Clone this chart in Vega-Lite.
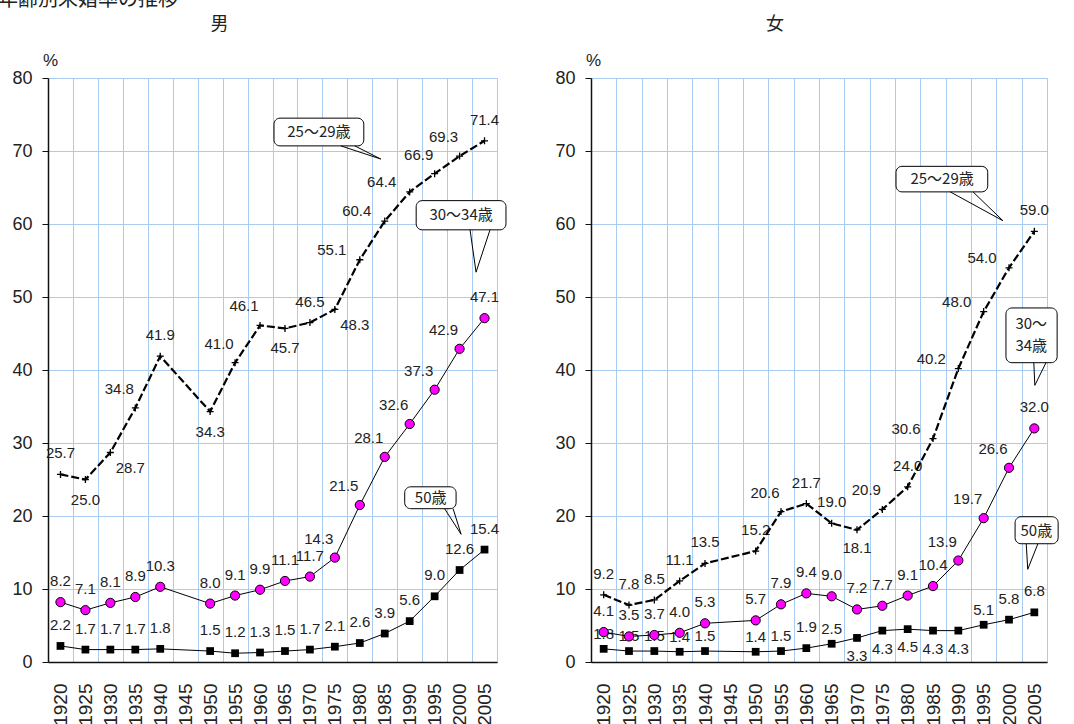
{
  "$schema": "https://vega.github.io/schema/vega-lite/v6.json",
  "padding": {"left": -3, "top": -10, "right": 5, "bottom": 0},
  "title": {"text": "年齢別未婚率の推移", "anchor": "start", "frame": "bounds", "dx": -14, "font": "Noto Sans CJK JP", "fontSize": 20, "fontWeight": "normal", "color": "#222", "offset": 6},
  "datasets": {
    "rates": [
      {"sex": "男", "age": "25～29歳", "year": 1920, "v": 25.7},
      {"sex": "男", "age": "25～29歳", "year": 1925, "v": 25.0},
      {"sex": "男", "age": "25～29歳", "year": 1930, "v": 28.7},
      {"sex": "男", "age": "25～29歳", "year": 1935, "v": 34.8},
      {"sex": "男", "age": "25～29歳", "year": 1940, "v": 41.9},
      {"sex": "男", "age": "25～29歳", "year": 1950, "v": 34.3},
      {"sex": "男", "age": "25～29歳", "year": 1955, "v": 41.0},
      {"sex": "男", "age": "25～29歳", "year": 1960, "v": 46.1},
      {"sex": "男", "age": "25～29歳", "year": 1965, "v": 45.7},
      {"sex": "男", "age": "25～29歳", "year": 1970, "v": 46.5},
      {"sex": "男", "age": "25～29歳", "year": 1975, "v": 48.3},
      {"sex": "男", "age": "25～29歳", "year": 1980, "v": 55.1},
      {"sex": "男", "age": "25～29歳", "year": 1985, "v": 60.4},
      {"sex": "男", "age": "25～29歳", "year": 1990, "v": 64.4},
      {"sex": "男", "age": "25～29歳", "year": 1995, "v": 66.9},
      {"sex": "男", "age": "25～29歳", "year": 2000, "v": 69.3},
      {"sex": "男", "age": "25～29歳", "year": 2005, "v": 71.4},
      {"sex": "男", "age": "30～34歳", "year": 1920, "v": 8.2},
      {"sex": "男", "age": "30～34歳", "year": 1925, "v": 7.1},
      {"sex": "男", "age": "30～34歳", "year": 1930, "v": 8.1},
      {"sex": "男", "age": "30～34歳", "year": 1935, "v": 8.9},
      {"sex": "男", "age": "30～34歳", "year": 1940, "v": 10.3},
      {"sex": "男", "age": "30～34歳", "year": 1950, "v": 8.0},
      {"sex": "男", "age": "30～34歳", "year": 1955, "v": 9.1},
      {"sex": "男", "age": "30～34歳", "year": 1960, "v": 9.9},
      {"sex": "男", "age": "30～34歳", "year": 1965, "v": 11.1},
      {"sex": "男", "age": "30～34歳", "year": 1970, "v": 11.7},
      {"sex": "男", "age": "30～34歳", "year": 1975, "v": 14.3},
      {"sex": "男", "age": "30～34歳", "year": 1980, "v": 21.5},
      {"sex": "男", "age": "30～34歳", "year": 1985, "v": 28.1},
      {"sex": "男", "age": "30～34歳", "year": 1990, "v": 32.6},
      {"sex": "男", "age": "30～34歳", "year": 1995, "v": 37.3},
      {"sex": "男", "age": "30～34歳", "year": 2000, "v": 42.9},
      {"sex": "男", "age": "30～34歳", "year": 2005, "v": 47.1},
      {"sex": "男", "age": "50歳", "year": 1920, "v": 2.2},
      {"sex": "男", "age": "50歳", "year": 1925, "v": 1.7},
      {"sex": "男", "age": "50歳", "year": 1930, "v": 1.7},
      {"sex": "男", "age": "50歳", "year": 1935, "v": 1.7},
      {"sex": "男", "age": "50歳", "year": 1940, "v": 1.8},
      {"sex": "男", "age": "50歳", "year": 1950, "v": 1.5},
      {"sex": "男", "age": "50歳", "year": 1955, "v": 1.2},
      {"sex": "男", "age": "50歳", "year": 1960, "v": 1.3},
      {"sex": "男", "age": "50歳", "year": 1965, "v": 1.5},
      {"sex": "男", "age": "50歳", "year": 1970, "v": 1.7},
      {"sex": "男", "age": "50歳", "year": 1975, "v": 2.1},
      {"sex": "男", "age": "50歳", "year": 1980, "v": 2.6},
      {"sex": "男", "age": "50歳", "year": 1985, "v": 3.9},
      {"sex": "男", "age": "50歳", "year": 1990, "v": 5.6},
      {"sex": "男", "age": "50歳", "year": 1995, "v": 9.0},
      {"sex": "男", "age": "50歳", "year": 2000, "v": 12.6},
      {"sex": "男", "age": "50歳", "year": 2005, "v": 15.4},
      {"sex": "女", "age": "25～29歳", "year": 1920, "v": 9.2},
      {"sex": "女", "age": "25～29歳", "year": 1925, "v": 7.8},
      {"sex": "女", "age": "25～29歳", "year": 1930, "v": 8.5},
      {"sex": "女", "age": "25～29歳", "year": 1935, "v": 11.1},
      {"sex": "女", "age": "25～29歳", "year": 1940, "v": 13.5},
      {"sex": "女", "age": "25～29歳", "year": 1950, "v": 15.2},
      {"sex": "女", "age": "25～29歳", "year": 1955, "v": 20.6},
      {"sex": "女", "age": "25～29歳", "year": 1960, "v": 21.7},
      {"sex": "女", "age": "25～29歳", "year": 1965, "v": 19.0},
      {"sex": "女", "age": "25～29歳", "year": 1970, "v": 18.1},
      {"sex": "女", "age": "25～29歳", "year": 1975, "v": 20.9},
      {"sex": "女", "age": "25～29歳", "year": 1980, "v": 24.0},
      {"sex": "女", "age": "25～29歳", "year": 1985, "v": 30.6},
      {"sex": "女", "age": "25～29歳", "year": 1990, "v": 40.2},
      {"sex": "女", "age": "25～29歳", "year": 1995, "v": 48.0},
      {"sex": "女", "age": "25～29歳", "year": 2000, "v": 54.0},
      {"sex": "女", "age": "25～29歳", "year": 2005, "v": 59.0},
      {"sex": "女", "age": "30～34歳", "year": 1920, "v": 4.1},
      {"sex": "女", "age": "30～34歳", "year": 1925, "v": 3.5},
      {"sex": "女", "age": "30～34歳", "year": 1930, "v": 3.7},
      {"sex": "女", "age": "30～34歳", "year": 1935, "v": 4.0},
      {"sex": "女", "age": "30～34歳", "year": 1940, "v": 5.3},
      {"sex": "女", "age": "30～34歳", "year": 1950, "v": 5.7},
      {"sex": "女", "age": "30～34歳", "year": 1955, "v": 7.9},
      {"sex": "女", "age": "30～34歳", "year": 1960, "v": 9.4},
      {"sex": "女", "age": "30～34歳", "year": 1965, "v": 9.0},
      {"sex": "女", "age": "30～34歳", "year": 1970, "v": 7.2},
      {"sex": "女", "age": "30～34歳", "year": 1975, "v": 7.7},
      {"sex": "女", "age": "30～34歳", "year": 1980, "v": 9.1},
      {"sex": "女", "age": "30～34歳", "year": 1985, "v": 10.4},
      {"sex": "女", "age": "30～34歳", "year": 1990, "v": 13.9},
      {"sex": "女", "age": "30～34歳", "year": 1995, "v": 19.7},
      {"sex": "女", "age": "30～34歳", "year": 2000, "v": 26.6},
      {"sex": "女", "age": "30～34歳", "year": 2005, "v": 32.0},
      {"sex": "女", "age": "50歳", "year": 1920, "v": 1.8},
      {"sex": "女", "age": "50歳", "year": 1925, "v": 1.5},
      {"sex": "女", "age": "50歳", "year": 1930, "v": 1.5},
      {"sex": "女", "age": "50歳", "year": 1935, "v": 1.4},
      {"sex": "女", "age": "50歳", "year": 1940, "v": 1.5},
      {"sex": "女", "age": "50歳", "year": 1950, "v": 1.4},
      {"sex": "女", "age": "50歳", "year": 1955, "v": 1.5},
      {"sex": "女", "age": "50歳", "year": 1960, "v": 1.9},
      {"sex": "女", "age": "50歳", "year": 1965, "v": 2.5},
      {"sex": "女", "age": "50歳", "year": 1970, "v": 3.3},
      {"sex": "女", "age": "50歳", "year": 1975, "v": 4.3},
      {"sex": "女", "age": "50歳", "year": 1980, "v": 4.5},
      {"sex": "女", "age": "50歳", "year": 1985, "v": 4.3},
      {"sex": "女", "age": "50歳", "year": 1990, "v": 4.3},
      {"sex": "女", "age": "50歳", "year": 1995, "v": 5.1},
      {"sex": "女", "age": "50歳", "year": 2000, "v": 5.8},
      {"sex": "女", "age": "50歳", "year": 2005, "v": 6.8}
    ],
    "boxes": [
      {"sex": "男", "label": "25～29歳", "x1": 1962.8, "x2": 1980.8, "y1": 70.7, "y2": 74.5, "tx": 1971.8, "ty": 72.6},
      {"sex": "男", "label": "30～34歳", "x1": 1991.3, "x2": 2009.3, "y1": 59.2, "y2": 63.2, "tx": 2000.3, "ty": 61.2},
      {"sex": "男", "label": "50歳", "x1": 1989.0, "x2": 1999.3, "y1": 21.0, "y2": 24.0, "tx": 1994.2, "ty": 22.5},
      {"sex": "女", "label": "25～29歳", "x1": 1977.7, "x2": 1995.8, "y1": 64.4, "y2": 67.9, "tx": 1986.8, "ty": 66.2},
      {"sex": "女", "label": "30～\n34歳", "x1": 1999.4, "x2": 2009.5, "y1": 41.0, "y2": 48.5, "tx": 2004.4, "ty": 46.3},
      {"sex": "女", "label": "50歳", "x1": 2001.2, "x2": 2009.7, "y1": 16.2, "y2": 19.9, "tx": 2005.4, "ty": 18.0}
    ],
    "wedges": [
      {"sex": "男", "label": "25～29歳", "k": 1, "x": 1976.2, "y": 70.7},
      {"sex": "男", "label": "25～29歳", "k": 2, "x": 1984.2, "y": 68.9},
      {"sex": "男", "label": "25～29歳", "k": 3, "x": 1979.0, "y": 70.7},
      {"sex": "男", "label": "30～34歳", "k": 1, "x": 2002.1, "y": 59.2},
      {"sex": "男", "label": "30～34歳", "k": 2, "x": 2003.3, "y": 53.4},
      {"sex": "男", "label": "30～34歳", "k": 3, "x": 2006.1, "y": 59.2},
      {"sex": "男", "label": "50歳", "k": 1, "x": 1997.0, "y": 21.0},
      {"sex": "男", "label": "50歳", "k": 2, "x": 2000.3, "y": 17.5},
      {"sex": "男", "label": "50歳", "k": 3, "x": 1998.7, "y": 21.0},
      {"sex": "女", "label": "25～29歳", "k": 1, "x": 1988.4, "y": 64.4},
      {"sex": "女", "label": "25～29歳", "k": 2, "x": 1998.8, "y": 60.45},
      {"sex": "女", "label": "25～29歳", "k": 3, "x": 1992.9, "y": 64.4},
      {"sex": "女", "label": "30～34歳", "k": 1, "x": 2004.9, "y": 41.0},
      {"sex": "女", "label": "30～34歳", "k": 2, "x": 2005.1, "y": 37.9},
      {"sex": "女", "label": "30～34歳", "k": 3, "x": 2007.3, "y": 41.0},
      {"sex": "女", "label": "50歳", "k": 1, "x": 2003.4, "y": 16.2},
      {"sex": "女", "label": "50歳", "k": 2, "x": 2003.7, "y": 12.7},
      {"sex": "女", "label": "50歳", "k": 3, "x": 2005.7, "y": 16.2}
    ]
  },
  "bounds": "flush",
  "spacing": 94,
  "hconcat": [
    {
      "title": {"text": "男", "frame": "group", "anchor": "middle", "dx": -53, "font": "Noto Sans CJK JP", "fontSize": 18, "fontWeight": "normal", "color": "#222", "offset": 17},
      "width": 449,
      "height": 584,
      "resolve": {"scale": {"x": "independent"}},
      "layer": [
        {
          "data": {"name": "rates"},
          "transform": [{"filter": "datum.sex=='男'"}],
          "encoding": {
            "x": {"field": "year", "type": "ordinal", "bandPosition": 0.5,
              "scale": {"type": "band", "domain": [1920,1925,1930,1935,1940,1945,1950,1955,1960,1965,1970,1975,1980,1985,1990,1995,2000,2005], "paddingInner": 0, "paddingOuter": 0},
              "axis": {"title": null, "tickBand": "extent", "grid": true, "ticks": false, "labelAngle": -90, "labelPadding": 21, "labelFontSize": 19}},
            "y": {"field": "v", "type": "quantitative", "title": "%",
              "scale": {"domain": [0, 80], "nice": false},
              "axis": {"values": [0,10,20,30,40,50,60,70,80], "titleAngle": 0, "titleAlign": "center", "titleBaseline": "bottom", "titleX": 2, "titleY": -9}}
          },
          "layer": [
            {"transform": [{"filter": "!((datum.age=='25～29歳' && indexof([1925,1950,1965],datum.year)>=0) || (datum.age=='25～29歳' && indexof([1930,1975],datum.year)>=0) || (datum.age=='25～29歳' && indexof([1980,1985,1990],datum.year)>=0) || (datum.age=='25～29歳' && indexof([1935,1955,1960,1995,2000],datum.year)>=0) || (datum.age=='30～34歳' && datum.year>=1975 && datum.year<=2000))"}],
             "mark": {"type": "text", "dy": -21, "font": "Liberation Sans", "fontSize": 15, "color": "#222", "baseline": "middle"},
             "encoding": {"text": {"field": "v", "type": "quantitative", "format": ".1f"}}},
            {"transform": [{"filter": "datum.age=='25～29歳' && indexof([1925,1950,1965],datum.year)>=0"}],
             "mark": {"type": "text", "dy": 20, "font": "Liberation Sans", "fontSize": 15, "color": "#222", "baseline": "middle"},
             "encoding": {"text": {"field": "v", "type": "quantitative", "format": ".1f"}}},
            {"transform": [{"filter": "datum.age=='25～29歳' && indexof([1930,1975],datum.year)>=0"}],
             "mark": {"type": "text", "dx": 20, "dy": 16, "font": "Liberation Sans", "fontSize": 15, "color": "#222", "baseline": "middle"},
             "encoding": {"text": {"field": "v", "type": "quantitative", "format": ".1f"}}},
            {"transform": [{"filter": "datum.age=='25～29歳' && indexof([1980,1985,1990],datum.year)>=0"}],
             "mark": {"type": "text", "dx": -28, "dy": -10, "font": "Liberation Sans", "fontSize": 15, "color": "#222", "baseline": "middle"},
             "encoding": {"text": {"field": "v", "type": "quantitative", "format": ".1f"}}},
            {"transform": [{"filter": "(datum.age=='25～29歳' && indexof([1935,1955,1960,1995,2000],datum.year)>=0) || (datum.age=='30～34歳' && datum.year>=1975 && datum.year<=2000)"}],
             "mark": {"type": "text", "dx": -16, "dy": -19, "font": "Liberation Sans", "fontSize": 15, "color": "#222", "baseline": "middle"},
             "encoding": {"text": {"field": "v", "type": "quantitative", "format": ".1f"}}},
            {"transform": [{"filter": "datum.age=='25～29歳'"}],
             "mark": {"type": "line", "color": "black", "strokeWidth": 2.2, "strokeDash": [8, 3]}},
            {"transform": [{"filter": "datum.age!='25～29歳'"}],
             "mark": {"type": "line", "color": "black", "strokeWidth": 1},
             "encoding": {"detail": {"field": "age"}}},
            {"transform": [{"filter": "datum.age=='25～29歳'"}],
             "mark": {"type": "point", "shape": "M-1,0L1,0M0,-1L0,1", "filled": false, "stroke": "black", "strokeWidth": 1.3, "size": 49, "opacity": 1}},
            {"transform": [{"filter": "datum.age=='30～34歳'"}],
             "mark": {"type": "point", "shape": "circle", "filled": true, "fill": "#ff00ff", "stroke": "black", "strokeWidth": 1, "size": 85, "opacity": 1}},
            {"transform": [{"filter": "datum.age=='50歳'"}],
             "mark": {"type": "point", "shape": "square", "filled": true, "fill": "black", "size": 60, "opacity": 1}}
          ]
        },
        {
          "layer": [
            {"data": {"name": "boxes"}, "transform": [{"filter": "datum.sex=='男'"}],
             "mark": {"type": "rect", "fill": "white", "stroke": "black", "strokeWidth": 1, "cornerRadius": 6},
             "encoding": {
               "x": {"field": "x1", "type": "quantitative", "scale": {"domain": [1917.5, 2007.5], "nice": false, "zero": false}, "axis": null},
               "x2": {"field": "x2"},
               "y": {"field": "y1", "type": "quantitative", "title": "%"},
               "y2": {"field": "y2"}}},
            {"data": {"name": "wedges"}, "transform": [{"filter": "datum.sex=='男'"}],
             "mark": {"type": "line", "color": "black", "strokeWidth": 1},
             "encoding": {
               "x": {"field": "x", "type": "quantitative", "axis": null},
               "y": {"field": "y", "type": "quantitative", "title": "%"},
               "detail": {"field": "label"},
               "order": {"field": "k"}}},
            {"data": {"name": "boxes"}, "transform": [{"filter": "datum.sex=='男'"}],
             "mark": {"type": "text", "font": "Noto Sans CJK JP", "fontSize": 15, "color": "#222", "lineBreak": "\n", "lineHeight": 22, "baseline": "middle"},
             "encoding": {
               "x": {"field": "tx", "type": "quantitative", "axis": null},
               "y": {"field": "ty", "type": "quantitative", "title": "%"},
               "text": {"field": "label"}}}
          ]
        }
      ]
    },
    {
      "title": {"text": "女", "frame": "group", "anchor": "middle", "dx": -44, "font": "Noto Sans CJK JP", "fontSize": 18, "fontWeight": "normal", "color": "#222", "offset": 17},
      "width": 456,
      "height": 584,
      "resolve": {"scale": {"x": "independent"}},
      "layer": [
        {
          "data": {"name": "rates"},
          "transform": [{"filter": "datum.sex=='女'"}],
          "encoding": {
            "x": {"field": "year", "type": "ordinal", "bandPosition": 0.5,
              "scale": {"type": "band", "domain": [1920,1925,1930,1935,1940,1945,1950,1955,1960,1965,1970,1975,1980,1985,1990,1995,2000,2005], "paddingInner": 0, "paddingOuter": 0},
              "axis": {"title": null, "tickBand": "extent", "grid": true, "ticks": false, "labelAngle": -90, "labelPadding": 21, "labelFontSize": 19}},
            "y": {"field": "v", "type": "quantitative", "title": "%",
              "scale": {"domain": [0, 80], "nice": false},
              "axis": {"values": [0,10,20,30,40,50,60,70,80], "titleAngle": 0, "titleAlign": "center", "titleBaseline": "bottom", "titleX": 2, "titleY": -9}}
          },
          "layer": [
            {"transform": [{"filter": "!((datum.age=='25～29歳' && datum.year==1970) || (datum.age=='50歳' && datum.year>=1970 && datum.year<=1990) || (datum.age=='25～29歳' && indexof([1985,1990,1995,2000],datum.year)>=0) || (datum.age=='25～29歳' && indexof([1955,1975],datum.year)>=0) || (datum.age=='30～34歳' && datum.year>=1990 && datum.year<=2000) || (datum.age=='50歳' && indexof([1920,1925,1930,1935,1940,1950,1955,1965,1995],datum.year)>=0))"}],
             "mark": {"type": "text", "dy": -21, "font": "Liberation Sans", "fontSize": 15, "color": "#222", "baseline": "middle"},
             "encoding": {"text": {"field": "v", "type": "quantitative", "format": ".1f"}}},
            {"transform": [{"filter": "(datum.age=='25～29歳' && datum.year==1970) || (datum.age=='50歳' && datum.year>=1970 && datum.year<=1990)"}],
             "mark": {"type": "text", "dy": 18, "font": "Liberation Sans", "fontSize": 15, "color": "#222", "baseline": "middle"},
             "encoding": {"text": {"field": "v", "type": "quantitative", "format": ".1f"}}},
            {"transform": [{"filter": "datum.age=='25～29歳' && indexof([1985,1990,1995,2000],datum.year)>=0"}],
             "mark": {"type": "text", "dx": -27, "dy": -10, "font": "Liberation Sans", "fontSize": 15, "color": "#222", "baseline": "middle"},
             "encoding": {"text": {"field": "v", "type": "quantitative", "format": ".1f"}}},
            {"transform": [{"filter": "(datum.age=='25～29歳' && indexof([1955,1975],datum.year)>=0) || (datum.age=='30～34歳' && datum.year>=1990 && datum.year<=2000)"}],
             "mark": {"type": "text", "dx": -16, "dy": -19, "font": "Liberation Sans", "fontSize": 15, "color": "#222", "baseline": "middle"},
             "encoding": {"text": {"field": "v", "type": "quantitative", "format": ".1f"}}},
            {"transform": [{"filter": "datum.age=='50歳' && indexof([1920,1925,1930,1935,1940,1950,1955,1965,1995],datum.year)>=0"}],
             "mark": {"type": "text", "dy": -15, "font": "Liberation Sans", "fontSize": 15, "color": "#222", "baseline": "middle"},
             "encoding": {"text": {"field": "v", "type": "quantitative", "format": ".1f"}}},
            {"transform": [{"filter": "datum.age=='25～29歳'"}],
             "mark": {"type": "line", "color": "black", "strokeWidth": 2.2, "strokeDash": [8, 3]}},
            {"transform": [{"filter": "datum.age!='25～29歳'"}],
             "mark": {"type": "line", "color": "black", "strokeWidth": 1},
             "encoding": {"detail": {"field": "age"}}},
            {"transform": [{"filter": "datum.age=='25～29歳'"}],
             "mark": {"type": "point", "shape": "M-1,0L1,0M0,-1L0,1", "filled": false, "stroke": "black", "strokeWidth": 1.3, "size": 49, "opacity": 1}},
            {"transform": [{"filter": "datum.age=='30～34歳'"}],
             "mark": {"type": "point", "shape": "circle", "filled": true, "fill": "#ff00ff", "stroke": "black", "strokeWidth": 1, "size": 85, "opacity": 1}},
            {"transform": [{"filter": "datum.age=='50歳'"}],
             "mark": {"type": "point", "shape": "square", "filled": true, "fill": "black", "size": 60, "opacity": 1}}
          ]
        },
        {
          "layer": [
            {"data": {"name": "boxes"}, "transform": [{"filter": "datum.sex=='女'"}],
             "mark": {"type": "rect", "fill": "white", "stroke": "black", "strokeWidth": 1, "cornerRadius": 6},
             "encoding": {
               "x": {"field": "x1", "type": "quantitative", "scale": {"domain": [1917.5, 2007.5], "nice": false, "zero": false}, "axis": null},
               "x2": {"field": "x2"},
               "y": {"field": "y1", "type": "quantitative", "title": "%"},
               "y2": {"field": "y2"}}},
            {"data": {"name": "wedges"}, "transform": [{"filter": "datum.sex=='女'"}],
             "mark": {"type": "line", "color": "black", "strokeWidth": 1},
             "encoding": {
               "x": {"field": "x", "type": "quantitative", "axis": null},
               "y": {"field": "y", "type": "quantitative", "title": "%"},
               "detail": {"field": "label"},
               "order": {"field": "k"}}},
            {"data": {"name": "boxes"}, "transform": [{"filter": "datum.sex=='女'"}],
             "mark": {"type": "text", "font": "Noto Sans CJK JP", "fontSize": 15, "color": "#222", "lineBreak": "\n", "lineHeight": 22, "baseline": "middle"},
             "encoding": {
               "x": {"field": "tx", "type": "quantitative", "axis": null},
               "y": {"field": "ty", "type": "quantitative", "title": "%"},
               "text": {"field": "label"}}}
          ]
        }
      ]
    }
  ],
  "config": {
    "view": {"stroke": null},
    "axis": {
      "domainColor": "#111",
      "domainWidth": 1.5,
      "tickColor": "#111",
      "tickSize": 6,
      "gridColor": "#aacbf0",
      "gridWidth": 1,
      "gridOpacity": 1,
      "labelFont": "Liberation Sans",
      "labelColor": "#222",
      "labelFontSize": 18,
      "labelPadding": 10,
      "titleFont": "Liberation Sans",
      "titleFontSize": 17,
      "titleFontWeight": "normal",
      "titleColor": "#222"
    }
  }
}
